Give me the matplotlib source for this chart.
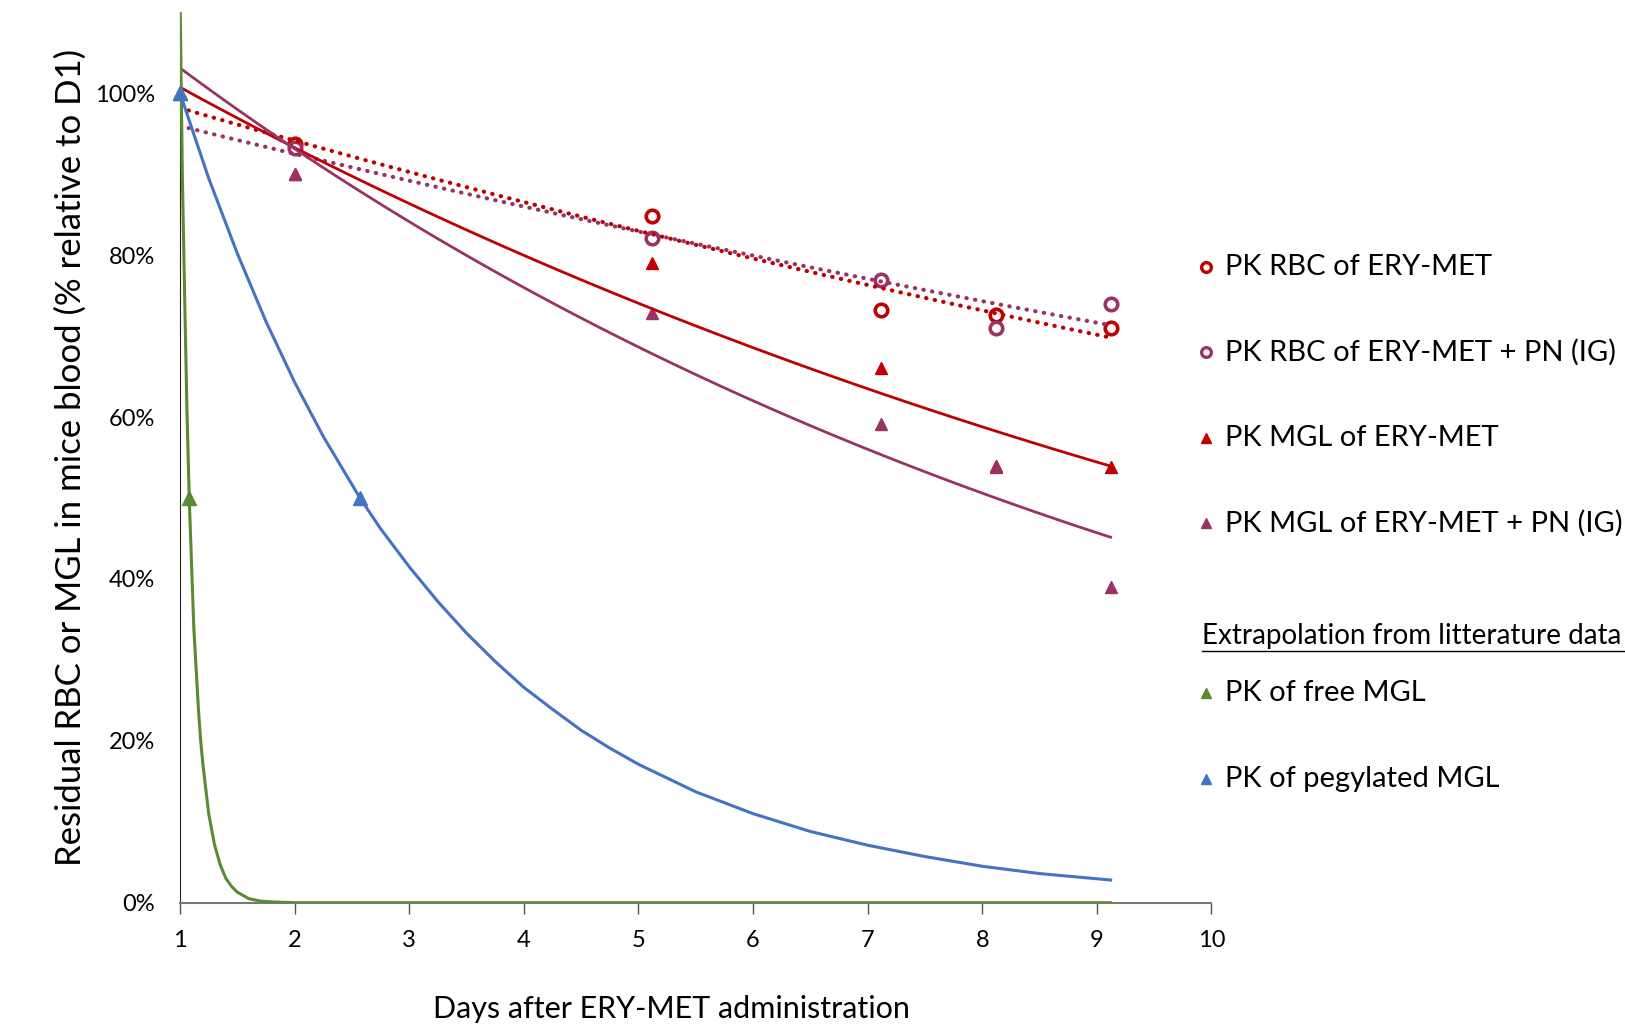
import matplotlib.pyplot as plt
import numpy as np
from matplotlib.lines import Line2D

plt.rcParams['font.family'] = ['Lato', 'DejaVu Sans']

# measured days
days = [1, 2, 5.12, 7.12, 8.12, 9.12]
rbc_days = [2, 5.12, 7.12, 8.12, 9.12]

# residual fraction (relative to D1)
rbc_ery = [0.937, 0.849, 0.732, 0.726, 0.710]
rbc_ery_pn = [0.933, 0.821, 0.769, 0.710, 0.740]
mgl_ery = [1.00, 0.90, 0.79, 0.66, 0.54, 0.538]
mgl_ery_pn = [1.00, 0.90, 0.729, 0.591, 0.538, 0.390]

# literature extrapolations
free_days = [1.0, 1.02, 1.04, 1.06, 1.08, 1.1, 1.12, 1.14, 1.16, 1.18, 1.2, 1.25, 1.3, 1.35,
             1.4, 1.45, 1.5, 1.6, 1.7, 1.8, 2.0, 9.12]
free_mgl = [1.12, 0.90, 0.75, 0.61, 0.50, 0.42, 0.34, 0.29, 0.24, 0.20, 0.17, 0.11, 0.072,
            0.047, 0.030, 0.020, 0.013, 0.005, 0.002, 0.001, 0.0, 0.0]
free_pts_days = [1, 1.08]
free_pts = [1.0, 0.50]

peg_days = [1, 1.25, 1.5, 1.75, 2, 2.25, 2.57, 2.75, 3, 3.25, 3.5, 3.75, 4, 4.25, 4.5, 4.75,
            5, 5.5, 6, 6.5, 7, 7.5, 8, 8.5, 9.12]
peg_mgl = [1.00, 0.895, 0.802, 0.718, 0.643, 0.576, 0.500, 0.462, 0.415, 0.372, 0.333, 0.298,
           0.266, 0.239, 0.213, 0.191, 0.171, 0.137, 0.110, 0.088, 0.071, 0.057, 0.045,
           0.036, 0.028]
peg_pts_days = [1, 2.57]
peg_pts = [1.0, 0.50]

red = '#C00000'
plum = '#993366'
green = '#5A8A32'
blue = '#4472C4'

fig = plt.figure(figsize=(16.25, 10.3), dpi=100)
ax = fig.add_axes([0.1108, 0.1236, 0.6347, 0.8644])


def exp_trend(x, y):
    b, a = np.polyfit(x, np.log(y), 1)
    t = np.linspace(1, 9.12, 100)
    return t, np.exp(a + b * t)


# markers
ax.plot(rbc_days, rbc_ery, 'o', ms=9, mfc='white', mec=red, mew=2.6, ls='none', zorder=3)
ax.plot(rbc_days, rbc_ery_pn, 'o', ms=9, mfc='white', mec=plum, mew=2.6, ls='none', zorder=3)
ax.plot(days, mgl_ery, '^', ms=9, color=red, ls='none', zorder=3, clip_on=False)
ax.plot(days, mgl_ery_pn, '^', ms=9, color=plum, ls='none', zorder=3, clip_on=False)

# trend lines
t, v = exp_trend(rbc_days, rbc_ery)
ax.plot(t, v, color=red, lw=3, ls=(0, (0.1, 2.0)), dash_capstyle='round', zorder=4)
t, v = exp_trend(rbc_days, rbc_ery_pn)
ax.plot(t, v, color=plum, lw=3, ls=(0, (0.1, 2.0)), dash_capstyle='round', zorder=4)
t, v = exp_trend(days, mgl_ery)
ax.plot(t, v, color=red, lw=2, zorder=4)
t, v = exp_trend(days, mgl_ery_pn)
ax.plot(t, v, color=plum, lw=2, zorder=4)

# literature curves
ax.plot(free_days, free_mgl, color=green, lw=2.2, zorder=5)
ax.plot(free_pts_days, free_pts, '^', ms=10, color=green, ls='none', zorder=5, clip_on=False)
ax.plot(peg_days, peg_mgl, color=blue, lw=2.2, zorder=5)
ax.plot(peg_pts_days, peg_pts, '^', ms=10, color=blue, ls='none', zorder=6, clip_on=False)

ax.set_xlim(1, 10)
ax.set_ylim(0, 1.10)
ax.set_xticks(range(1, 11))
ax.set_yticks([0, 0.2, 0.4, 0.6, 0.8, 1.0])
ax.set_yticklabels(['0%', '20%', '40%', '60%', '80%', '100%'])
ax.tick_params(axis='x', direction='out', length=8, width=1, color='#555555', pad=12, labelsize=17)
ax.tick_params(axis='y', length=0, pad=18, labelsize=17)
for s in ['top', 'right']:
    ax.spines[s].set_visible(False)
ax.spines['left'].set_color('#222222')
ax.spines['bottom'].set_color('#777777')
ax.spines['bottom'].set_linewidth(1.5)

ax.set_xlabel('Days after ERY-MET administration', fontsize=22)
ax.xaxis.set_label_coords(0.476, -0.104)
ax.set_ylabel('Residual RBC or MGL in mice blood (% relative to D1)', fontsize=25)
ax.yaxis.set_label_coords(-0.09, 0.5)

# legend drawn by hand
mx, tx = 1206 / 1625, 1225 / 1625
entries = [
    (267, 'o', red, 'PK RBC of ERY-MET'),
    (352, 'o', plum, 'PK RBC of ERY-MET + PN (IG)'),
    (438, '^', red, 'PK MGL of ERY-MET'),
    (523, '^', plum, 'PK MGL of ERY-MET + PN (IG)'),
    (693, '^', green, 'PK of free MGL'),
    (779, '^', blue, 'PK of pegylated MGL'),
]
for ypx, mk, col, lab in entries:
    y = 1 - ypx / 1030
    if mk == 'o':
        fig.add_artist(Line2D([mx], [y], marker='o', ms=7, mfc='white', mec=col, mew=2.4, ls='none'))
    else:
        fig.add_artist(Line2D([mx], [y], marker='^', ms=7, color=col, ls='none'))
    fig.text(tx, y, lab, fontsize=21, va='center', ha='left')

fig.text(1202 / 1625, 1 - 636 / 1030, 'Extrapolation from litterature data', fontsize=20,
         va='center', ha='left')
fig.add_artist(Line2D([1202 / 1625, 1.0], [1 - 651 / 1030] * 2, color='black', lw=1))

fig.savefig('out.png', dpi=100)
